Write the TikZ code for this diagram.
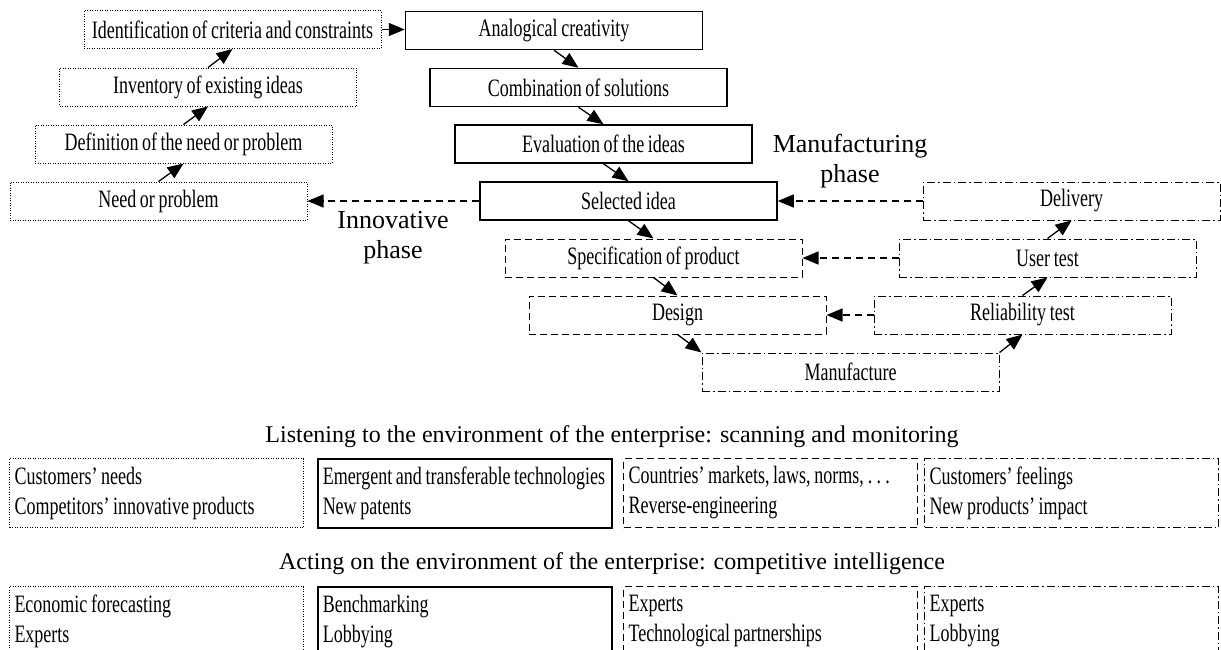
\documentclass[tikz,border=0pt]{standalone}
\usepackage{fontspec}
\setmainfont{Liberation Serif}
\newfontfamily\boxfont{Liberation Serif}[FakeStretch=0.72,WordSpace=0.8]
\usetikzlibrary{arrows.meta}
\newcommand\tightsp{\spaceskip=\fontdimen2\font\relax}

\tikzset{
  box/.style={minimum width=297pt, minimum height=38pt, inner sep=0pt,
    font=\boxfont\fontsize{25}{28}\selectfont},
  dotbox/.style={box, draw, line width=1pt, dash pattern=on 1pt off 1.5pt},
  solidbox/.style={box, draw, line width=1.5pt},
  dashbox/.style={box, draw, line width=1pt, dash pattern=on 7pt off 4pt},
  dotdashbox/.style={box, draw, line width=1pt, dash pattern=on 8pt off 3pt on 1.5pt off 3pt},
  envbox/.style={anchor=north west, text width=284pt, inner xsep=5pt, inner ysep=0pt,
    minimum height=69pt, align=left, font=\boxfont\fontsize{25}{30}\selectfont},
  arr/.style={-{Triangle[length=16pt,width=13pt]}, line width=1.3pt},
  darr/.style={arr, dash pattern=on 7pt off 5pt},
  phase/.style={font=\fontsize{26}{30}\selectfont, align=center},
  title/.style={font=\fontsize{24}{28}\selectfont},
}

\begin{document}
\begin{tikzpicture}[x=1pt,y=-1pt]
		\useasboundingbox (0,0) rectangle (1221,649);
		
		% innovative phase
		\node[dotbox] (ident) at (232.5,29.5) {Identification of criteria and constraints};
		\node[dotbox] (invent) at (208,87) {Inventory of existing ideas};
		\node[dotbox] (defin) at (183.5,144) {Definition of the need or problem};
		\node[dotbox] (need) at (158.5,201) {Need or problem};
		
		\node[solidbox] (analog) at (554,30.5) {Analogical creativity};
		\node[solidbox] (combi) at (578.5,87.5) {Combination of solutions};
		\node[solidbox] (evalu) at (603.5,144) {Evaluation of the ideas};
		\node[solidbox] (select) at (628.5,201) {Selected idea};
		
		% manufacturing phase
		\node[dashbox] (spec) at (653.5,258) {Specification of product};
		\node[dashbox] (design) at (677.5,315) {Design};
		
		\node[dotdashbox] (manuf) at (850.5,372) {Manufacture};
		\node[dotdashbox] (reliab) at (1022.5,315) {Reliability test};
		\node[dotdashbox] (usert) at (1047.5,258) {User test};
		\node[dotdashbox] (deliv) at (1071.5,201) {Delivery};
		
		\draw[arr] (need.north) -- (defin.south);
		\draw[arr] (defin.north) -- (invent.south);
		\draw[arr] (invent.north) -- (ident.south);
		\draw[arr] (ident.east) -- (analog.west |- ident.east);
		\draw[arr] (analog.south) -- (combi.north);
		\draw[arr] (combi.south) -- (evalu.north);
		\draw[arr] (evalu.south) -- (select.north);
		\draw[arr] (select.south) -- (spec.north);
		\draw[arr] (spec.south) -- (design.north);
		\draw[arr] (design.south) -- (manuf.north west);
		\draw[arr] (manuf.north east) -- (reliab.south);
		\draw[arr] (reliab.north) -- (usert.south);
		\draw[arr] (usert.north) -- (deliv.south);
		
		\draw[darr] (select.west) -- (need.east);
		\draw[darr] (deliv.west) -- (select.east);
		\draw[darr] (usert.west) -- (spec.east);
		\draw[darr] (reliab.west) -- (design.east);
		
		\node[phase] (innolab) at (393,238) {Innovative\\phase};
		\node[phase] (manulab) at (850,161) {Manufacturing\\phase};
		
		% environment
		\node[title] (listen) at (612,437) {Listening to the environment of the enterprise: scanning and monitoring};
		\node[envbox, draw, line width=1pt, dash pattern=on 1pt off 1.5pt] (lsn1) at (9,458) {\tightsp Customers’ needs\\Competitors’ innovative products};
		\node[envbox, draw, line width=1.5pt] (lsn2) at (317,458) {\tightsp Emergent and transferable technologies\\New patents};
		\node[envbox, draw, line width=1pt, dash pattern=on 7pt off 4pt] (lsn3) at (623,458) {\tightsp Countries’ markets, laws, norms,\,.\,.\,.\\Reverse-engineering};
		\node[envbox, draw, line width=1pt, dash pattern=on 8pt off 3pt on 1.5pt off 3pt] (lsn4) at (924,458) {\tightsp Customers’ feelings\\New products’ impact};
		
		\node[title] (acting) at (612,564) {Acting on the environment of the enterprise: competitive intelligence};
		\node[envbox, draw, line width=1pt, dash pattern=on 1pt off 1.5pt] (act1) at (9,586) {\tightsp Economic forecasting\\Experts};
		\node[envbox, draw, line width=1.5pt] (act2) at (317,586) {\tightsp Benchmarking\\Lobbying};
		\node[envbox, draw, line width=1pt, dash pattern=on 7pt off 4pt] (act3) at (623,586) {\tightsp Experts\\Technological partnerships};
		\node[envbox, draw, line width=1pt, dash pattern=on 8pt off 3pt on 1.5pt off 3pt] (act4) at (924,586) {\tightsp Experts\\Lobbying};
		
	\end{tikzpicture}
\end{document}
